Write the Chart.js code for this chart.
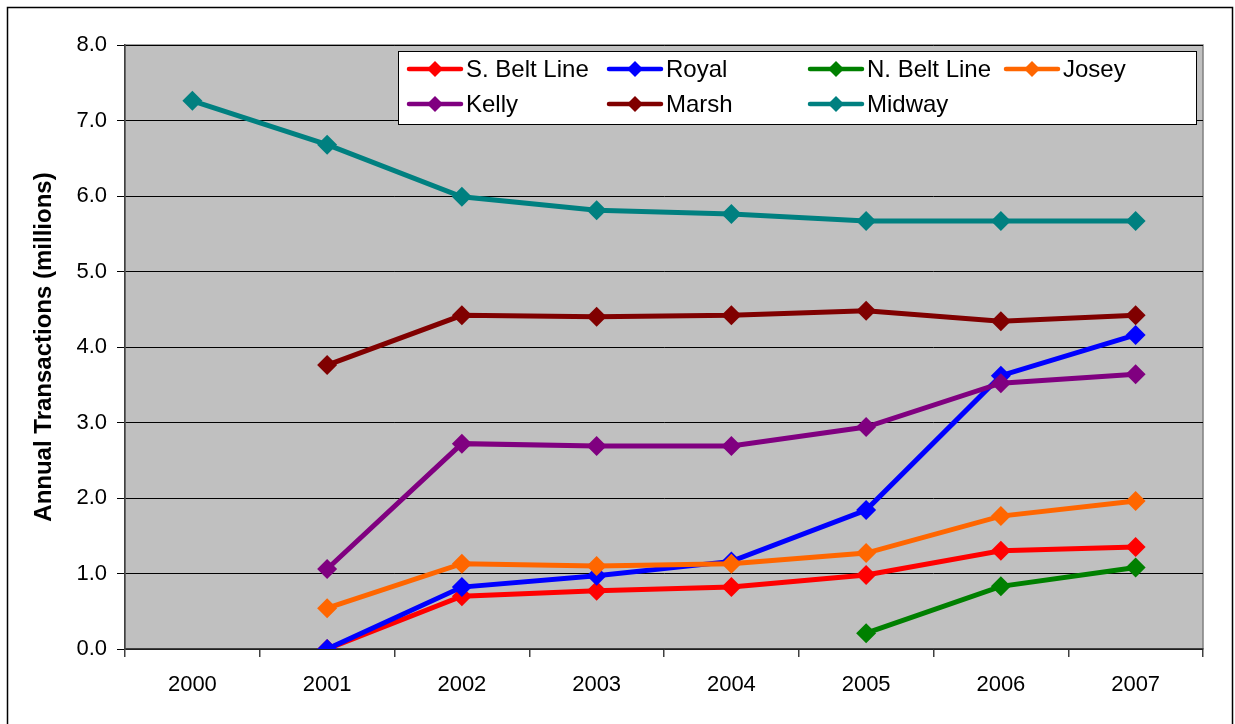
<!DOCTYPE html>
<html><head><meta charset="utf-8">
<script src="https://cdn.jsdelivr.net/npm/chart.js@4"></script>
<style>html,body{margin:0;padding:0;background:#fff}#wrap{width:1235px;height:724px;position:relative}</style>
</head><body><div id="wrap"><canvas id="c" width="1235" height="724"></canvas></div>
<script>
const years = ['2000','2001','2002','2003','2004','2005','2006','2007'];
const yTicks = [0,1,2,3,4,5,6,7,8];
const seriesNames = ['S. Belt Line','Royal','N. Belt Line','Josey','Kelly','Marsh','Midway'];
const sBeltLine = [null,0.00,0.70,0.77,0.82,0.98,1.30,1.35];
const royal     = [null,0.00,0.82,0.97,1.16,1.84,3.62,4.16];
const nBeltLine = [null,null,null,null,null,0.21,0.83,1.08];
const josey     = [null,0.54,1.13,1.10,1.13,1.27,1.76,1.96];
const kelly     = [null,1.06,2.72,2.69,2.69,2.94,3.52,3.64];
const marsh     = [null,3.76,4.42,4.40,4.42,4.48,4.34,4.42];
const midway    = [7.26,6.68,5.99,5.81,5.76,5.67,5.67,5.67];
const seriesColors = ['#FF0000','#0000FF','#008000','#FF6600','#800080','#800000','#008080'];
const seriesData = [sBeltLine,royal,nBeltLine,josey,kelly,marsh,midway];

const FONT = '"Liberation Sans", Arial, sans-serif';

const datasets = seriesNames.map((n,i)=>({
  label:n, data:seriesData[i], borderColor:seriesColors[i], backgroundColor:seriesColors[i],
  borderWidth:5, pointStyle:'rectRot', pointRadius:10, pointHoverRadius:10,
  pointBorderWidth:0, tension:0, spanGaps:false, order:20-i
}));

const bgPlugin = {
  id:'bg',
  beforeDraw(chart){
    const {ctx, chartArea:a} = chart;
    ctx.save();
    ctx.fillStyle='#fff'; ctx.fillRect(0,0,chart.width,chart.height);
    ctx.strokeStyle='#000'; ctx.lineWidth=1.5;
    ctx.strokeRect(7.5,7.5,1225,740);
    ctx.fillStyle='#C0C0C0';
    ctx.fillRect(a.left,a.top,a.right-a.left,a.bottom-a.top);
    ctx.strokeStyle='#808080'; ctx.lineWidth=1.5;
    ctx.strokeRect(a.left,a.top,a.right-a.left,a.bottom-a.top);
    ctx.restore();
  }
};

const legendPlugin = {
  id:'boxLegend',
  afterDraw(chart){
    const ctx = chart.ctx;
    ctx.save();
    const L=398,T=51,R=1196,B=124;
    ctx.fillStyle='#fff'; ctx.fillRect(L,T,R-L,B-T);
    ctx.strokeStyle='#000'; ctx.lineWidth=1; ctx.strokeRect(L+0.5,T+0.5,R-L,B-T);
    const cols=[407,607,808,1004], rows=[69,104];
    ctx.font='24px '+FONT; ctx.textBaseline='middle'; ctx.textAlign='left';
    chart.data.datasets.forEach((ds,i)=>{
      const x=cols[i%4], y=rows[Math.floor(i/4)];
      ctx.strokeStyle=ds.borderColor; ctx.lineWidth=4.5; ctx.lineCap='round';
      ctx.beginPath(); ctx.moveTo(x+2,y); ctx.lineTo(x+54,y); ctx.stroke();
      ctx.fillStyle=ds.borderColor;
      ctx.beginPath(); ctx.moveTo(x+28,y-8); ctx.lineTo(x+36,y); ctx.lineTo(x+28,y+8); ctx.lineTo(x+20,y); ctx.closePath(); ctx.fill();
      ctx.fillStyle='#000';
      ctx.fillText(ds.label,x+59,y+1);
    });
    ctx.restore();
  }
};

new Chart(document.getElementById('c'),{
  type:'line',
  data:{labels:years, datasets},
  options:{
    responsive:false, animation:false, devicePixelRatio:1,
    layout:{padding:{left:30,top:45,right:32,bottom:0}},
    plugins:{legend:{display:false}, tooltip:{enabled:false}},
    scales:{
      x:{
        offset:true,
        grid:{offset:true, drawOnChartArea:false, drawTicks:true, tickLength:8, color:'#404040', lineWidth:1.5},
        border:{display:true,color:'#404040',width:1.5},
        ticks:{color:'#000', font:{family:FONT,size:22}, padding:15, maxRotation:0},
        afterFit(s){ s.height=75; }
      },
      y:{
        min:0,max:8,
        afterBuildTicks(s){ s.ticks = yTicks.map(v=>({value:v})); },
        grid:{color:'#000', lineWidth:1, tickLength:8, drawTicks:true},
        border:{display:true,color:'#404040',width:1.5},
        ticks:{color:'#000', font:{family:FONT,size:22}, padding:10, callback:v=>Number(v).toFixed(1)},
        title:{display:true,text:'Annual Transactions (millions)', color:'#000', font:{family:FONT,size:24,weight:'bold'}, padding:{top:0,bottom:2}},
        afterFit(s){ s.width=95; }
      }
    }
  },
  plugins:[bgPlugin, legendPlugin]
});
</script></body></html>
